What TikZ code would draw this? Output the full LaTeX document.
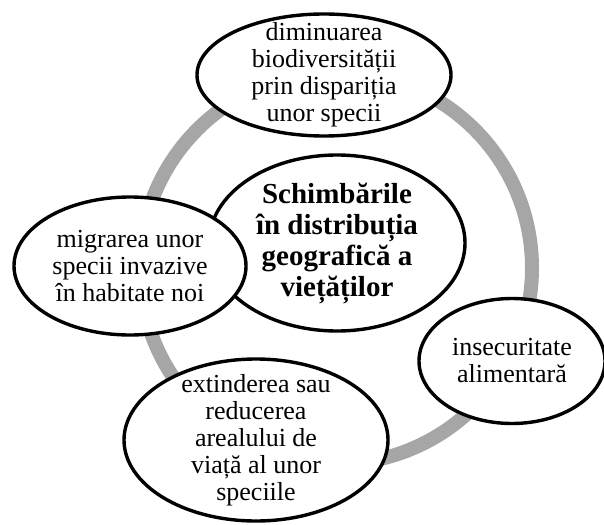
\documentclass[tikz,border=0pt]{standalone}
\usepackage{fontspec}
\setmainfont{Liberation Serif}
\usepackage{tikz}
\usetikzlibrary{shapes.geometric}
\definecolor{ringgray}{RGB}{166,166,166}

\begin{document}
\begin{tikzpicture}[
  x=1pt,y=-1pt,
  bubble/.style={ellipse,draw,line width=3.4pt,fill=white,inner sep=-20pt,align=center,
    font=\fontsize{26}{27}\selectfont},
  hubbox/.style={bubble,font=\bfseries\fontsize{29}{31}\selectfont},
  ring/.style={draw=ringgray,line width=14pt}
]
\useasboundingbox (0,0) rectangle (604,524);
\coordinate (hub) at (336,268);
\draw[ring] (hub) circle[radius=196pt];

\node[hubbox,minimum width=256pt,minimum height=176pt] (core) at (337,243) {Schimbările\\ în distribuția\\ geografică a\\ viețăților};
\node[bubble,minimum width=254pt,minimum height=122pt] (loss) at (324,75) {diminuarea\\ biodiversității\\ prin dispariția\\ unor specii};
\node[bubble,minimum width=232pt,minimum height=138pt] (migr) at (130,266) {migrarea unor\\ specii invazive\\ în habitate noi};
\node[bubble,minimum width=186pt,minimum height=125pt] (food) at (512,361) {insecuritate\\ alimentară};
\node[bubble,minimum width=264pt,minimum height=162pt] (range) at (256,440) {extinderea sau\\ reducerea\\ arealului de\\ viață al unor\\ speciile};
\end{tikzpicture}
\end{document}
